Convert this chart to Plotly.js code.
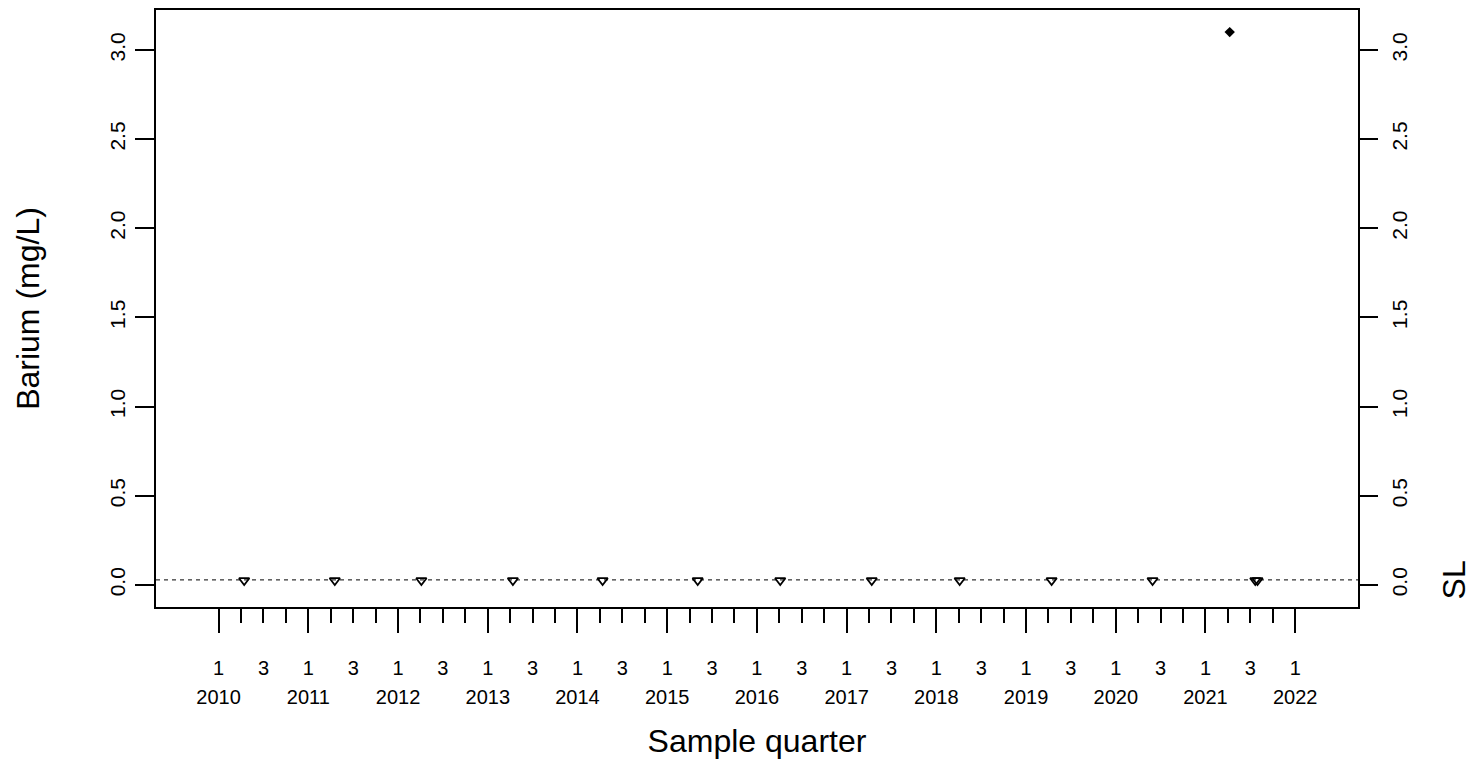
<!DOCTYPE html>
<html>
<head>
<meta charset="utf-8">
<script src="https://cdn.plot.ly/plotly-3.0.1.min.js"></script>
<style>html,body{margin:0;padding:0;background:#fff;}#chart{width:1483px;height:762px;}</style>
</head>
<body>
<div id="chart"></div>
<script>
// Non-detect samples (plotted at reporting limit)
const ndDates  = [2010.285, 2011.295, 2012.26, 2013.28, 2014.28, 2015.34, 2016.26, 2017.28, 2018.26, 2019.285, 2020.41, 2021.555, 2021.58];
const ndValues = [0.025, 0.025, 0.025, 0.025, 0.025, 0.025, 0.025, 0.025, 0.025, 0.025, 0.025, 0.025, 0.025];
// Detected samples
const detDates  = [2021.27];
const detValues = [3.1];
// Standard limit
const slValue = [0.028];
const slLabel = ["SL"];
// Axis ticks
const years = [2010, 2011, 2012, 2013, 2014, 2015, 2016, 2017, 2018, 2019, 2020, 2021, 2022];
const yearLabels = years.map(String);
const q1Labels = years.map(() => "1");
const q3Pos = years.slice(0, 12).map(y => y + 0.5);
const q3Labels = q3Pos.map(() => "3");
const quarterPos = [];
years.slice(0, 12).forEach(y => { quarterPos.push(y + 0.25, y + 0.5, y + 0.75); });
const yTicks = [0, 0.5, 1, 1.5, 2, 2.5, 3];
const yTickLabels = ["0.0", "0.5", "1.0", "1.5", "2.0", "2.5", "3.0"];

const FONT = "Liberation Sans, Arial, Helvetica, sans-serif";
const xRange = [2009.302, 2022.70];
const yRange = [-0.124, 3.224];

const traces = [
  {x: ndDates, y: ndValues, type: "scatter", mode: "markers", xaxis: "x", yaxis: "y",
   marker: {symbol: "triangle-down-open", size: 9, color: "black", line: {width: 1.8, color: "black"}},
   hoverinfo: "skip", showlegend: false},
  {x: detDates, y: detValues, type: "scatter", mode: "markers", xaxis: "x", yaxis: "y",
   marker: {symbol: "diamond", size: 8, color: "black"},
   hoverinfo: "skip", showlegend: false},
  {x: [], y: [], type: "scatter", mode: "markers", xaxis: "x2", yaxis: "y2", showlegend: false, hoverinfo: "skip"},
  {x: [], y: [], type: "scatter", mode: "markers", xaxis: "x3", yaxis: "y", showlegend: false, hoverinfo: "skip"}
];

const baseX = {range: xRange, showgrid: false, zeroline: false, fixedrange: true,
  tickfont: {family: FONT, size: 20, color: "black"}};

const layout = {
  width: 1483, height: 762,
  margin: {l: 156, r: 125, t: 10, b: 155, pad: 0},
  paper_bgcolor: "white", plot_bgcolor: "white",
  font: {family: FONT, color: "black"},
  showlegend: false,
  xaxis: Object.assign({}, baseX, {
    tickmode: "array", tickvals: years, ticktext: q1Labels,
    ticks: "outside", ticklen: 24, tickwidth: 2, tickcolor: "black",
    minor: {tickmode: "array", tickvals: quarterPos, ticks: "outside", ticklen: 14, tickwidth: 2, tickcolor: "black", showgrid: false},
    showline: true, linecolor: "black", linewidth: 2, mirror: true,
    ticklabelstandoff: 18,
    title: {text: "Sample quarter", font: {family: FONT, size: 32, color: "black"}, standoff: 52}
  }),
  xaxis2: Object.assign({}, baseX, {
    overlaying: "x", side: "bottom", anchor: "y",
    tickmode: "array", tickvals: q3Pos, ticktext: q3Labels,
    ticks: "", showline: false, ticklabelstandoff: 47
  }),
  xaxis3: Object.assign({}, baseX, {
    overlaying: "x", side: "bottom", anchor: "y",
    tickmode: "array", tickvals: years, ticktext: yearLabels,
    ticks: "", showline: false, ticklabelstandoff: 76
  }),
  yaxis: {
    range: yRange, showgrid: false, zeroline: false, fixedrange: true,
    tickmode: "array", tickvals: yTicks, ticktext: yTickLabels, tickangle: -90,
    ticks: "outside", ticklen: 19, tickwidth: 2, tickcolor: "black",
    tickfont: {family: FONT, size: 21, color: "black"},
    showline: true, linecolor: "black", linewidth: 2, mirror: true,
    ticklabelstandoff: 2,
    title: {text: "Barium (mg/L)", font: {family: FONT, size: 32, color: "black"}, standoff: 56}
  },
  yaxis2: {
    range: yRange, overlaying: "y", side: "right", anchor: "x",
    showgrid: false, zeroline: false, fixedrange: true,
    tickmode: "array", tickvals: yTicks, ticktext: yTickLabels, tickangle: -90,
    ticks: "outside", ticklen: 19, tickwidth: 2, tickcolor: "black",
    tickfont: {family: FONT, size: 21, color: "black"},
    showline: false, ticklabelstandoff: 4
  },
  shapes: [{type: "line", xref: "paper", x0: 0, x1: 1, yref: "y", y0: slValue[0], y1: slValue[0],
    line: {color: "black", width: 1, dash: "4px,4px"}, layer: "below"}],
  annotations: [{text: slLabel[0], xref: "paper", x: 1.0795, yref: "y", y: slValue[0],
    showarrow: false, textangle: -90, xanchor: "center", yanchor: "middle",
    font: {family: FONT, size: 32, color: "black"}}]
};

Plotly.newPlot("chart", traces, layout, {staticPlot: true, displayModeBar: false});
</script>
</body>
</html>
